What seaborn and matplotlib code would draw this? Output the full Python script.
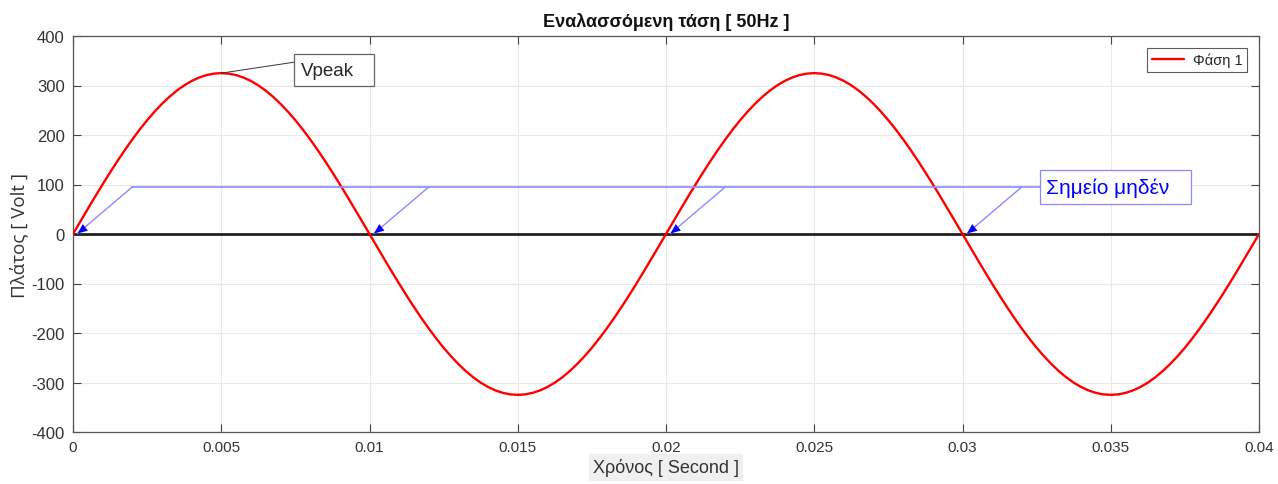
import matplotlib
matplotlib.use("Agg")
import matplotlib.pyplot as plt
from matplotlib.patches import Rectangle
import seaborn as sns
import pandas as pd

quarter = [0.0, 25.5, 50.8, 75.9, 100.4, 124.4, 147.5, 169.8, 191.0, 211.1, 229.8,
           247.1, 262.9, 277.1, 289.6, 300.3, 309.1, 316.0, 321.0, 324.0, 325.0]
half_pos = quarter + quarter[-2::-1]            # 0 .. 0.01 s
volts = half_pos + [-v for v in half_pos[1:]] + half_pos[1:] + [-v for v in half_pos[1:]]
time_s = [round(i * 0.00025, 5) for i in range(len(volts))]
series_name = "Φάση 1"
x_ticks = [0, 0.005, 0.01, 0.015, 0.02, 0.025, 0.03, 0.035, 0.04]
x_tick_labels = ["0", "0.005", "0.01", "0.015", "0.02", "0.025", "0.03", "0.035", "0.04"]
y_ticks = [-400, -300, -200, -100, 0, 100, 200, 300, 400]
zero_points = [0.0, 0.01, 0.02, 0.03]
peak_point = (0.005, 325.0)

df = pd.DataFrame({"t": time_s, "v": volts, "s": series_name})

sns.set_style("white")
plt.rcParams["font.family"] = ["Liberation Sans", "DejaVu Sans"]
plt.rcParams["axes.unicode_minus"] = False

fig = plt.figure(figsize=(12.78, 4.85), dpi=100)
ax = fig.add_axes([73 / 1278, 1 - 433 / 485, (1259 - 73) / 1278, (433 - 37) / 485])

ax.grid(True, color="#e8e8e8", linewidth=0.8)
ax.set_axisbelow(True)

# zero line
ax.axhline(0, color="#222222", linewidth=2, zorder=2)

sns.lineplot(data=df, x="t", y="v", color="red", linewidth=1.7, label=series_name,
             ax=ax, zorder=3, estimator=None, sort=False)

ax.set_xlim(0, 0.04)
ax.set_ylim(-400, 400)
ax.set_xticks(x_ticks)
ax.set_xticklabels(x_tick_labels)
ax.set_yticks(y_ticks)
ax.tick_params(axis="both", direction="in", length=6, width=0.8, color="#444444",
               labelcolor="#333333", top=True, right=True,
               bottom=True, left=True, pad=6)
ax.tick_params(axis="x", labelsize=11)
ax.tick_params(axis="y", labelsize=12)
for sp in ax.spines.values():
    sp.set_color("#555555")
    sp.set_linewidth(0.9)
    sp.set_visible(True)

ax.set_title("Εναλασσόμενη τάση [ 50Hz ]", fontsize=13, fontweight="bold", pad=7,
             color="#111111")
ax.set_xlabel("Χρόνος [ Second ]", fontsize=13, color="#333333", labelpad=3,
              bbox=dict(facecolor="#f0f0f0", edgecolor="none", pad=3))
ax.set_ylabel("Πλάτος [ Volt ]", fontsize=13.5, color="#333333", labelpad=2,
              family=["Open Sans", "DejaVu Sans"])

leg = ax.legend(loc="upper right", fontsize=10.5, frameon=True, fancybox=False,
                handlelength=2.2, borderpad=0.35, borderaxespad=0.8, handletextpad=0.6)
leg.get_frame().set_edgecolor("#333333")
leg.get_frame().set_linewidth(0.8)

# Vpeak annotation
ax.plot([peak_point[0], 0.00745], [peak_point[1], 347], color="#333333", linewidth=0.7, zorder=4)
ax.add_patch(Rectangle((0.00745, 299), 0.0027, 65, facecolor="white", edgecolor="#666666",
                       linewidth=0.9, zorder=5))
ax.text(0.0077, 331, "Vpeak", fontsize=13.5, ha="left", va="center", zorder=6)

# zero-point annotations
line_c = "#8a8aff"
ax.plot([0.002, 0.0326], [95, 95], color=line_c, linewidth=1.2, zorder=4)
for zp in zero_points:
    ax.annotate("", xy=(zp + 0.00015, 1), xytext=(zp + 0.002, 95),
                arrowprops=dict(arrowstyle="-", color=line_c, linewidth=1.0,
                                shrinkA=0, shrinkB=0),
                zorder=5)
    ax.annotate("", xy=(zp + 0.00015, 1), xytext=(zp + 0.0006, 22),
                arrowprops=dict(arrowstyle="-|>,head_length=0.6,head_width=0.25",
                                color="blue", linewidth=0.0, shrinkA=0, shrinkB=0,
                                mutation_scale=12),
                zorder=6)
ax.add_patch(Rectangle((0.0326, 61), 0.0051, 68, facecolor="white", edgecolor=line_c,
                       linewidth=0.9, zorder=5))
ax.text(0.03282, 95, "Σημείο μηδέν", fontsize=15, color="blue", ha="left", va="center", zorder=6)

fig.savefig("out.png", dpi=100)
